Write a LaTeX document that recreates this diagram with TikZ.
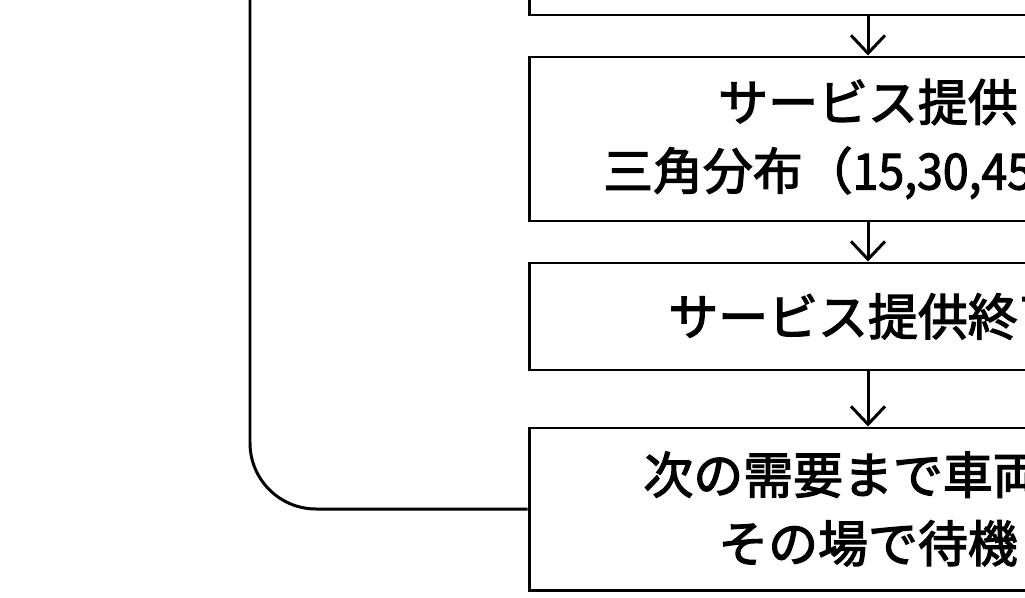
\documentclass[tikz,border=0pt]{standalone}
\usepackage{fontspec}
\setmainfont{Noto Sans CJK JP}[FakeBold=2.5]
\newfontfamily\numfont{Noto Sans CJK JP}[FakeBold=2.2, FakeStretch=0.93]
\usetikzlibrary{arrows.meta}

\tikzset{
  flowbox/.style={draw, line width=0.85pt, minimum width=6.78cm, align=center, inner sep=0pt,
    font=\fontsize{14.2pt}{19.5pt}\selectfont},
  flowarrow/.style={-{Straight Barb[length=1.8mm,width=3.4mm]}, line width=0.85pt}
}

\begin{document}
\begin{tikzpicture}
    \useasboundingbox (0,0) rectangle (10.25,5.97);
    \clip (0,0) rectangle (10.25,5.97);

    % Previous step (cut off at the top)
    \node[flowbox, minimum height=1.07cm] (prev) at (8.68,6.355) {};

    % Service
    \node[flowbox, minimum height=1.64cm] (serve) at (8.68,4.58) {サービス提供\\三角分布（{\numfont 15,30,45}分）};

    % Service end
    \node[flowbox, minimum height=1.07cm] (done) at (8.68,2.805) {サービス提供終了};

    % Wait
    \node[flowbox, minimum height=1.62cm] (wait) at (8.68,0.88) {次の需要まで車両は\\その場で待機};

    % Arrows
    \draw[flowarrow] (prev) -- (serve);
    \draw[flowarrow] (serve) -- (done);
    \draw[flowarrow] (done) -- (wait);

    % Loop back
    \coordinate (loopend) at (2.50,6.5);
    \draw[line width=0.85pt, rounded corners=0.66cm] (wait.west) -| (loopend);
\end{tikzpicture}
\end{document}
